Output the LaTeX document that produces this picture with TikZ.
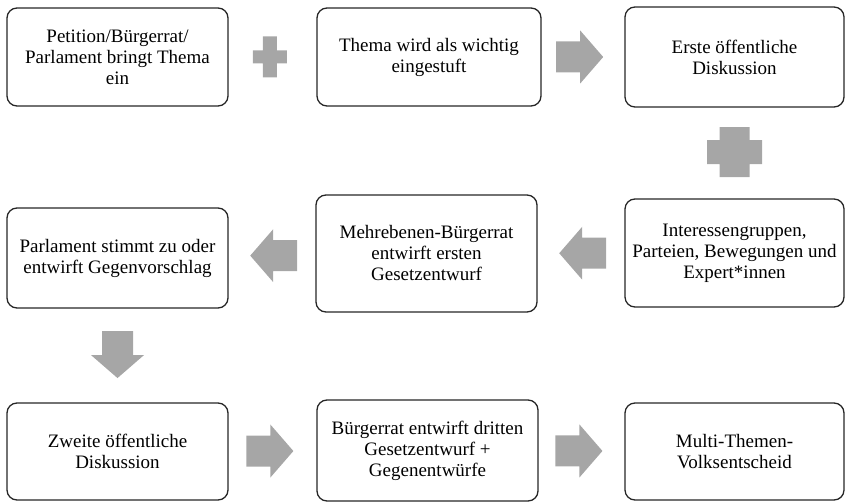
\documentclass[tikz,border=0pt]{standalone}
\usepackage{fontspec}
\setmainfont{Liberation Serif}
\usetikzlibrary{calc}
\definecolor{flowgray}{HTML}{A6A6A6}
\begin{document}
\begin{tikzpicture}[x=1pt,y=-1pt,
  stepbox/.style={draw=black!85, line width=1.3pt, rounded corners=10pt,
    align=center, inner sep=0pt, font=\fontsize{19}{21}\selectfont},
  % block arrow pointing along +x, centred on the origin
  blockarrow/.pic={\fill[flowgray] (-23.5,-15.5) -- (0.5,-15.5) -- (0.5,-26.5)
      -- (23.5,0) -- (0.5,26.5) -- (0.5,15.5) -- (-23.5,15.5) -- cycle;},
  smallplus/.pic={\fill[flowgray] (-17,-6.5) -- (-7,-6.5) -- (-7,-20.5) -- (7,-20.5)
      -- (7,-6.5) -- (17,-6.5) -- (17,6.5) -- (7,6.5) -- (7,20.5) -- (-7,20.5)
      -- (-7,6.5) -- (-17,6.5) -- cycle;},
  bigplus/.pic={\fill[flowgray] (-27.5,-12) -- (-15,-12) -- (-15,-25) -- (15,-25)
      -- (15,-12) -- (27.5,-12) -- (27.5,12) -- (15,12) -- (15,25) -- (-15,25)
      -- (-15,12) -- (-27.5,12) -- cycle;}
]
\useasboundingbox (0,0) rectangle (845,502);

% first row
\node[stepbox, minimum width=221pt, minimum height=98pt] (A) at (117.5,57)
  {Petition/Bürgerrat/\\Parlament bringt Thema\\ein};
\node[stepbox, minimum width=224pt, minimum height=98pt] (B) at (429,57)
  {Thema wird als wichtig\\eingestuft};
\node[stepbox, minimum width=219pt, minimum height=100pt] (C) at (734.5,57)
  {Erste öffentliche\\Diskussion};

% second row
\node[stepbox, minimum width=219pt, minimum height=108pt] (D) at (734.5,253)
  {Interessengruppen,\\Parteien, Bewegungen und\\Expert*innen};
\node[stepbox, minimum width=221pt, minimum height=117pt] (E) at (426.5,253.5)
  {Mehrebenen-Bürgerrat\\entwirft ersten\\Gesetzentwurf};
\node[stepbox, minimum width=221pt, minimum height=100pt] (F) at (117.5,258)
  {Parlament stimmt zu oder\\entwirft Gegenvorschlag};

% third row
\node[stepbox, minimum width=221pt, minimum height=97pt] (G) at (117.5,451.5)
  {Zweite öffentliche\\Diskussion};
\node[stepbox, minimum width=221pt, minimum height=101pt] (H) at (427.5,450.5)
  {Bürgerrat entwirft dritten\\Gesetzentwurf +\\Gegenentwürfe};
\node[stepbox, minimum width=219pt, minimum height=97pt] (I) at (734.5,451.5)
  {Multi-Themen-\\Volksentscheid};

% connectors between the steps
\pic at ($(A.east)!0.47!(B.west)$) {smallplus};
\pic at ($(B.east)!0.46!(C.west)$) {blockarrow};
\pic at ($(C.south)!0.49!(D.north)$) {bigplus};
\pic[rotate=180] at ($(D.west)!0.48!(E.east)$) {blockarrow};
\pic[rotate=180] at ($(E.west)!0.48!(F.east)$) {blockarrow};
\pic[rotate=-90] at ($(F.south)!0.49!(G.north)$) {blockarrow};
\pic at ($(G.east)!0.47!(H.west)$) {blockarrow};
\pic at ($(H.east)!0.47!(I.west)$) {blockarrow};
\end{tikzpicture}
\end{document}
